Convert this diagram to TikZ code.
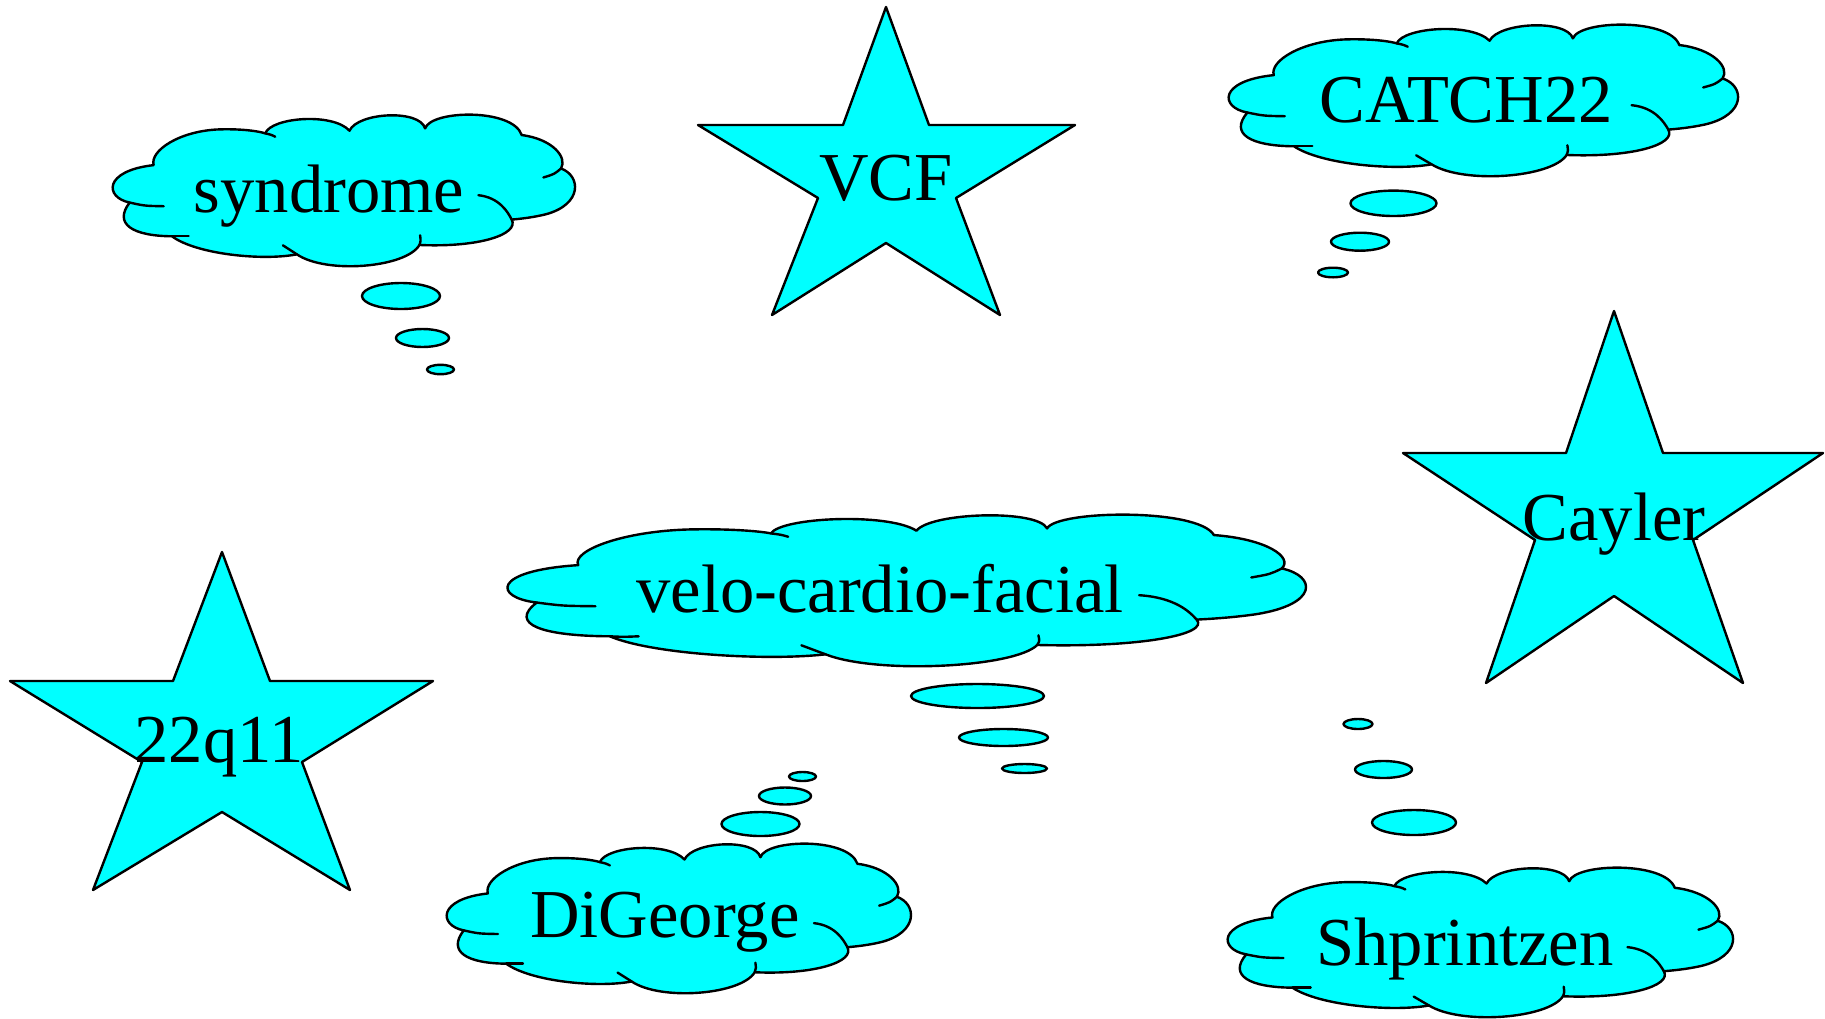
\documentclass[tikz,border=0pt]{standalone}
\usepackage{fontspec}
\setmainfont{Liberation Serif}
\definecolor{cyanfill}{RGB}{0,255,255}
\tikzset{
  shapefill/.style={fill=cyanfill, draw=black, line width=1.2pt, line join=round},
  tickline/.style={draw=black, line width=1.2pt, line cap=round},
  txt/.style={inner sep=0pt, anchor=base, font=\fontsize{34.3}{40}\selectfont},
}
\newcommand{\cloudat}[4]{%
  \begin{scope}[shift={(#1,#2)}, xscale=#3, yscale=#4]
    \path[shapefill] (50,265) .. controls (-25,250) and (-30,170) .. (122,153)
      .. controls (110,110) and (200,50) .. (320,46)
      .. controls (390,44) and (440,52) .. (457,58)
      .. controls (475,10) and (660,-5) .. (710,50)
      .. controls (735,-5) and (920,-15) .. (937,43)
      .. controls (955,-12) and (1200,-18) .. (1227,63)
      .. controls (1320,75) and (1365,130) .. (1345,163)
      .. controls (1405,185) and (1410,270) .. (1300,300)
      .. controls (1260,310) and (1220,314) .. (1197,316)
      .. controls (1220,360) and (1100,400) .. (920,392)
      .. controls (880,460) and (640,480) .. (552,420)
      .. controls (450,440) and (250,420) .. (177,366)
      .. controls (60,365) and (0,330) .. (50,265) -- cycle;
    \draw[tickline] (50,265) .. controls (95,275) .. (152,276);
    \draw[tickline] (457,58) .. controls (475,62) .. (487,68);
    \draw[tickline] (1345,163) .. controls (1325,180) .. (1292,190);
    \draw[tickline] (1097,243) .. controls (1160,250) and (1185,293) .. (1197,316);
    \draw[tickline] (922,363) .. controls (924,380) .. (920,392);
    \draw[tickline] (552,420) .. controls (530,405) .. (510,393);
    \draw[tickline] (177,366) .. controls (200,368) .. (227,366);
  \end{scope}}
\begin{document}
\begin{tikzpicture}[x=0.5pt, y=-0.5pt]
\useasboundingbox (0,0) rectangle (1825,1018);

% clouds
\cloudat{113}{114}{0.3331}{0.3341}
\cloudat{1229}{24}{0.3670}{0.3341}
\cloudat{508}{514}{0.5753}{0.3341}
\cloudat{447}{843}{0.3345}{0.3297}
\cloudat{1228}{867}{0.3641}{0.3297}

% thought bubbles
\path[shapefill] (401,296) ellipse [x radius=39, y radius=13];
\path[shapefill] (422.5,338) ellipse [x radius=26.5, y radius=9];
\path[shapefill] (440.5,369.5) ellipse [x radius=13.5, y radius=4.7];

\path[shapefill] (1393.5,203.3) ellipse [x radius=43, y radius=12.7];
\path[shapefill] (1360,241.7) ellipse [x radius=29, y radius=9];
\path[shapefill] (1333,272.5) ellipse [x radius=15, y radius=4.8];

\path[shapefill] (977.5,696) ellipse [x radius=66.5, y radius=12];
\path[shapefill] (1003.5,737.5) ellipse [x radius=44.5, y radius=8.5];
\path[shapefill] (1024.5,768.5) ellipse [x radius=22.5, y radius=4.5];

\path[shapefill] (760.5,824) ellipse [x radius=39, y radius=12];
\path[shapefill] (785,796) ellipse [x radius=26, y radius=8.5];
\path[shapefill] (802.5,776.5) ellipse [x radius=13.5, y radius=4.5];

\path[shapefill] (1414,822.5) ellipse [x radius=42, y radius=12.5];
\path[shapefill] (1383.5,769.5) ellipse [x radius=28.5, y radius=8.5];
\path[shapefill] (1358,724) ellipse [x radius=14.5, y radius=5];

% stars
\path[shapefill] (886,7) -- (929,125) -- (1075,125) -- (956,198) -- (1000,315)
  -- (886,243) -- (772,315) -- (818,198) -- (698,125) -- (843,125) -- cycle;
\path[shapefill] (222,552) -- (270,681) -- (433,681) -- (302,762) -- (350,890)
  -- (222,812) -- (93,890) -- (142,762) -- (10,681) -- (173,681) -- cycle;
\path[shapefill] (1614,311) -- (1663,453) -- (1823,453) -- (1693,540) -- (1743,683)
  -- (1614,596) -- (1486,683) -- (1535,540) -- (1403,453) -- (1566,453) -- cycle;

% texts
\node[txt] (syndrome) at (329,212) {syndrome};
\node[txt] (catch) at (1466,122.5) {CATCH22};
\node[txt] (velo) at (880,612) {velo-cardio-facial};
\node[txt] (digeorge) at (665,937) {DiGeorge};
\node[txt] (shprintzen) at (1465,965) {Shprintzen};
\node[txt] (vcf) at (886,200) {VCF};
\node[txt] (q) at (219,762) {22q11};
\node[txt] (cayler) at (1614,540) {Cayler};
\end{tikzpicture}
\end{document}
